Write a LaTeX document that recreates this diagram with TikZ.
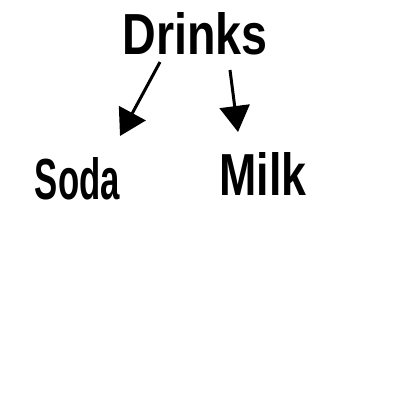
\documentclass[tikz,border=0pt]{standalone}
\usepackage{fontspec}
\setmainfont{Liberation Sans}
\usetikzlibrary{arrows.meta}
\tikzset{
  word/.style={inner sep=0pt, outer sep=0pt, anchor=center, font=\bfseries},
  conn/.style={line width=3pt, -{Triangle[length=26pt, width=30pt]}}
}
\begin{document}
\begin{tikzpicture}[x=1pt, y=-1pt]
\useasboundingbox (0,0) rectangle (400,400);
\node[word] (drinks) at (195,34) {\resizebox{145pt}{42pt}{Drinks}};
\node[word] (soda) at (77.5,179) {\resizebox{85pt}{42pt}{Soda}};
\node[word] (milk) at (263,173.5) {\resizebox{87pt}{43pt}{Milk}};
\coordinate (l0) at (160,62);
\coordinate (l1) at (120,136);
\coordinate (r0) at (230,70);
\coordinate (r1) at (238,132);
\draw[conn] (l0) -- (l1);
\draw[conn] (r0) -- (r1);
\end{tikzpicture}
\end{document}
